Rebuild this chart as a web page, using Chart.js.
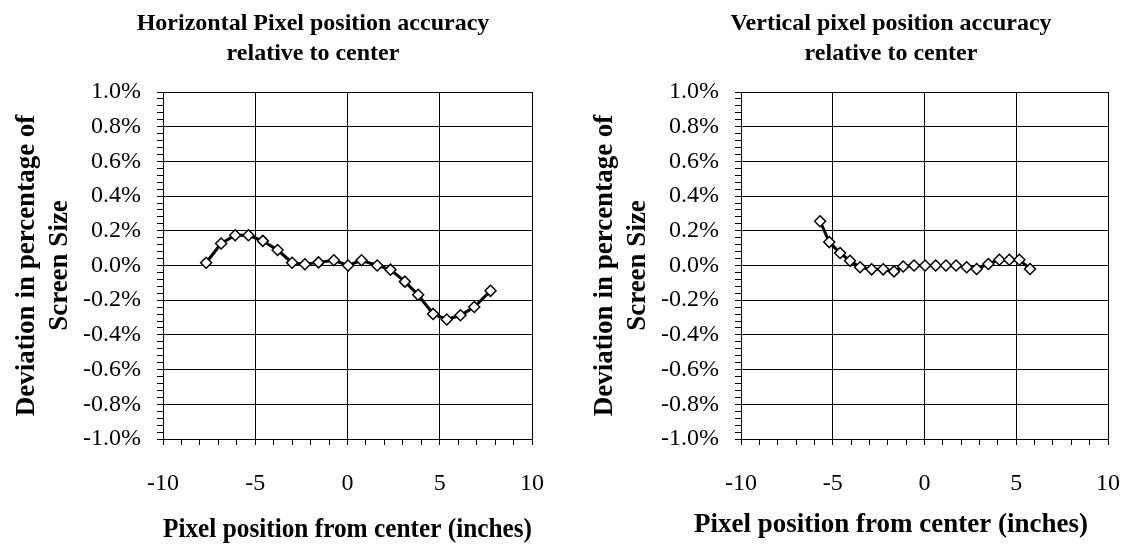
<!DOCTYPE html>
<html>
<head>
<meta charset="utf-8">
<script src="https://cdn.jsdelivr.net/npm/chart.js@4.4.1/dist/chart.umd.min.js"></script>
<style>
    html, body { margin: 0; padding: 0; background: #fff; overflow: hidden; }
    body { width: 1124px; height: 544px; position: relative; }
    .box { position: absolute; top: 0; width: 626px; height: 544px; }
    #boxH { left: 0; }
    #boxV { left: 578px; }
</style>
</head>
<body>
<div class="box" id="boxH"><canvas id="chartH"></canvas></div>
<div class="box" id="boxV"><canvas id="chartV"></canvas></div>
<script>
// Horizontal accuracy: position (inches) vs deviation (% of screen size)
const hPos = [-7.66, -6.85, -6.09, -5.37, -4.59, -3.79, -3.00, -2.31, -1.57, -0.74, 0.03,
              0.76, 1.61, 2.33, 3.11, 3.83, 4.64, 5.38, 6.12, 6.87, 7.75];
const hDev = [0.016, 0.127, 0.174, 0.174, 0.142, 0.089, 0.016, 0.007, 0.018, 0.030, 0.000,
              0.030, 0.000, -0.024, -0.093, -0.169, -0.279, -0.311, -0.287, -0.239, -0.146];

// Vertical accuracy
const vPos = [-5.69, -5.19, -4.60, -4.06, -3.51, -2.88, -2.25, -1.66, -1.16, -0.57, 0.03,
              0.61, 1.17, 1.72, 2.30, 2.84, 3.48, 4.08, 4.62, 5.17, 5.75];
const vDev = [0.255, 0.135, 0.072, 0.027, -0.010, -0.022, -0.022, -0.034, -0.006, 0.000, 0.000,
              0.000, 0.000, 0.000, -0.010, -0.020, 0.009, 0.033, 0.033, 0.033, -0.020];

const titleH = ['Horizontal Pixel position accuracy', 'relative to center'];
const titleV = ['Vertical pixel position accuracy', 'relative to center'];
const yTitle = ['Deviation in percentage of', 'Screen Size'];
const xTitle = 'Pixel position from center (inches)';

const FONT = "'Liberation Serif', 'Times New Roman', serif";
const X_TITLE_FONT = { family: FONT, size: 27, weight: 'bold', lineHeight: 1.0 };

const isMultiple = (v, step) => Math.abs(v / step - Math.round(v / step)) < 1e-6;

// xTitleOnChart: the right-hand original centres its x title on the whole chart, not on the axis
function makeChart(canvasId, title, xs, ys, bottomPad, rightSpace, xTitleOnChart) {
    const points = xs.map((x, i) => ({ x: x, y: ys[i] }));
    const xTitleHeight = 27;

    const config = {
        type: 'scatter',
        data: {
            datasets: [{
                data: points,
                showLine: true,
                borderColor: '#000',
                borderWidth: 3,
                pointStyle: 'rectRot',
                pointRadius: 5.5,
                pointBackgroundColor: '#fff',
                pointBorderColor: '#000',
                pointBorderWidth: 1.5,
                tension: 0
            }]
        },
        options: {
            responsive: true,
            maintainAspectRatio: false,
            animation: false,
            events: [],
            layout: { padding: { left: 0, right: 0, top: 0, bottom: bottomPad } },
            plugins: {
                legend: { display: false },
                tooltip: { enabled: false },
                title: {
                    display: true,
                    text: title,
                    color: '#000',
                    font: { family: FONT, size: 24, weight: 'bold', lineHeight: 1.25 },
                    padding: { top: 9, bottom: 23 }
                },
                subtitle: {
                    display: xTitleOnChart,
                    position: 'bottom',
                    text: xTitle,
                    color: '#000',
                    font: X_TITLE_FONT,
                    padding: 0
                }
            },
            scales: {
                x: {
                    type: 'linear',
                    min: -10,
                    max: 10,
                    border: { display: true, color: '#000', width: 1 },
                    grid: {
                        color: (ctx) => isMultiple(ctx.tick.value, 5) ? '#000' : 'rgba(0,0,0,0)',
                        tickColor: '#000',
                        tickLength: 6,
                        lineWidth: 1
                    },
                    ticks: {
                        stepSize: 1,
                        autoSkip: false,
                        maxRotation: 0,
                        padding: 24,
                        color: '#000',
                        font: { family: FONT, size: 24 },
                        callback: (v) => isMultiple(v, 5) ? String(v) : ''
                    },
                    title: {
                        display: !xTitleOnChart,
                        text: xTitle,
                        color: '#000',
                        font: X_TITLE_FONT,
                        padding: { top: 0, bottom: 0 }
                    },
                    afterFit: (scale) => {
                        scale.height = 105 - bottomPad - (xTitleOnChart ? xTitleHeight : 0);
                    }
                },
                y: {
                    type: 'linear',
                    min: -1,
                    max: 1,
                    border: { display: true, color: '#000', width: 1 },
                    grid: {
                        color: (ctx) => isMultiple(ctx.tick.value, 0.2) ? '#000' : 'rgba(0,0,0,0)',
                        tickColor: '#000',
                        tickLength: 6,
                        lineWidth: 1
                    },
                    ticks: {
                        stepSize: 0.04,
                        autoSkip: false,
                        padding: 16,
                        color: '#000',
                        font: { family: FONT, size: 24 },
                        callback: (v) => isMultiple(v, 0.2) ? v.toFixed(1) + '%' : ''
                    },
                    title: {
                        display: true,
                        text: yTitle,
                        color: '#000',
                        font: { family: FONT, size: 27, weight: 'bold', lineHeight: 1.22 },
                        padding: { top: 11, bottom: 0 }
                    },
                    afterFit: (scale) => { scale.width = 163; }
                },
                // empty right-hand axis, only reserves the white margin so the title stays centred
                spacer: {
                    type: 'linear',
                    axis: 'y',
                    position: 'right',
                    grid: { display: false },
                    border: { display: false },
                    ticks: { display: false },
                    afterFit: (scale) => { scale.width = rightSpace; }
                }
            }
        }
    };

    return new Chart(document.getElementById(canvasId), config);
}

makeChart('chartH', titleH, hPos, hDev, 0, 94, false);
makeChart('chartV', titleV, vPos, vDev, 5, 96, true);
</script>
</body>
</html>
